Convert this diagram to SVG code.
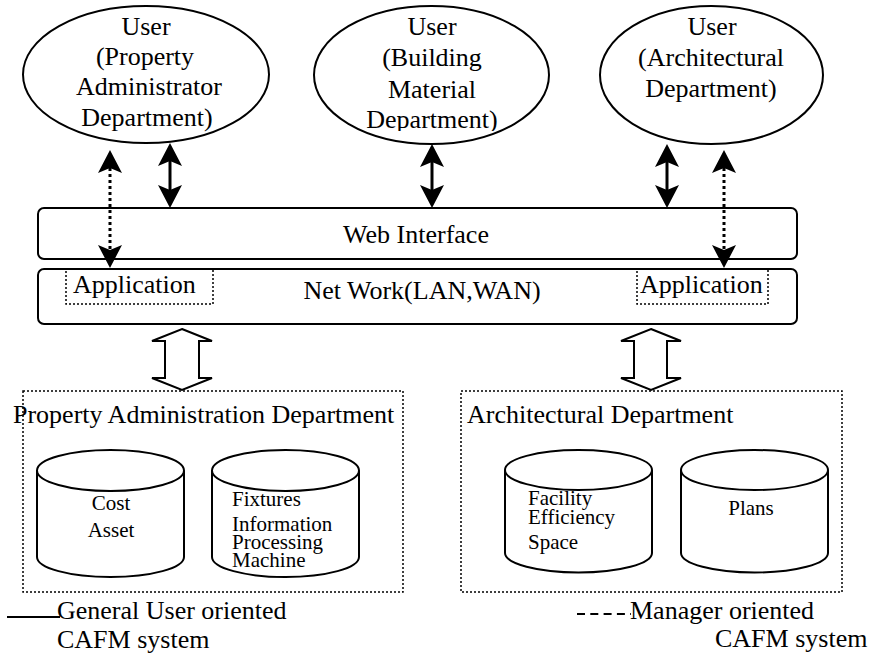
<svg xmlns="http://www.w3.org/2000/svg" width="875" height="658" viewBox="0 0 875 658">
<style>
text{font-family:"Liberation Serif","Times New Roman",serif;fill:#000}
.big{font-size:26px}
.sm{font-size:21px}
.mid{text-anchor:middle}
.shape{fill:#fff;stroke:#000;stroke-width:2}
.dot{fill:none;stroke:#000;stroke-width:1.5;stroke-dasharray:2 2}
.solid{stroke:#000;stroke-width:3;fill:none}
.dotted{stroke:#000;stroke-width:3;fill:none;stroke-dasharray:3 3}
.hollow{fill:#fff;stroke:#000;stroke-width:2;stroke-linejoin:miter}
</style>
<defs>
<marker id="head" viewBox="0 0 23 24" refX="5" refY="12" markerWidth="23" markerHeight="24" markerUnits="userSpaceOnUse" orient="auto-start-reverse">
<path d="M0 0 L23 12 L0 24 L5 12 Z" fill="#000"/>
</marker>
<clipPath id="clipB"><rect x="300" y="0" width="260" height="131"/></clipPath>
</defs>

<g id="user-property">
<ellipse class="shape" cx="146" cy="74.5" rx="123" ry="68.5"/>
<text class="big mid" x="146" y="35">User</text>
<text class="big mid" x="145" y="65">(Property</text>
<text class="big mid" x="149" y="95">Administrator</text>
<text class="big mid" x="147" y="126">Department)</text>
</g>

<g id="user-building">
<ellipse class="shape" cx="431.5" cy="75" rx="117.5" ry="69"/>
<g clip-path="url(#clipB)">
<text class="big mid" x="432" y="35">User</text>
<text class="big mid" x="432" y="66">(Building</text>
<text class="big mid" x="432" y="98">Material</text>
<text class="big mid" x="432" y="128">Department)</text>
</g>
</g>

<g id="user-architectural">
<ellipse class="shape" cx="711.5" cy="75" rx="111.5" ry="69"/>
<text class="big mid" x="712" y="35">User</text>
<text class="big mid" x="711" y="66">(Architectural</text>
<text class="big mid" x="711" y="97">Department)</text>
</g>

<g id="web-interface">
<rect class="shape" x="38" y="208" width="759" height="51" rx="6"/>
<text class="big mid" x="416" y="243">Web Interface</text>
</g>

<g id="network">
<rect class="shape" x="38" y="269" width="759" height="55" rx="6"/>
<text class="big mid" x="422" y="299">Net Work(LAN,WAN)</text>
</g>

<g id="application-left">
<rect class="dot" x="66" y="269" width="147" height="35"/>
<text class="big" x="73" y="293">Application</text>
</g>

<g id="application-right">
<rect class="dot" x="637" y="269" width="131" height="35"/>
<text class="big" x="640" y="293">Application</text>
</g>

<g id="property-admin-dept">
<rect class="dot" x="23" y="391" width="380" height="201"/>
<text class="big" x="13" y="423">Property Administration Department</text>
</g>

<g id="architectural-dept">
<rect class="dot" x="461" y="391" width="381" height="201"/>
<text class="big" x="467" y="423">Architectural Department</text>
</g>

<g id="db-cost-asset">
<path class="shape" d="M37 470.5 L37 557 A73.5 20 0 0 0 184 557 L184 470.5"/>
<ellipse class="shape" cx="110.5" cy="470.5" rx="73.5" ry="20.5"/>
<text class="sm mid" x="111" y="510">Cost</text>
<text class="sm mid" x="111" y="537">Asset</text>
</g>

<g id="db-fixtures">
<path class="shape" d="M212 470.5 L212 557 A73.5 20 0 0 0 359 557 L359 470.5"/>
<ellipse class="shape" cx="285.5" cy="470.5" rx="73.5" ry="20.5"/>
<text class="sm" x="232" y="506">Fixtures</text>
<text class="sm" x="232" y="531">Information</text>
<text class="sm" x="232" y="549">Processing</text>
<text class="sm" x="232" y="567">Machine</text>
</g>

<g id="db-facility">
<path class="shape" d="M505 470 L505 553 A73.5 19.5 0 0 0 652 553 L652 470"/>
<ellipse class="shape" cx="578.5" cy="470" rx="73.5" ry="20"/>
<text class="sm" x="528" y="505">Facility</text>
<text class="sm" x="528" y="524">Efficiency</text>
<text class="sm" x="528" y="549">Space</text>
</g>

<g id="db-plans">
<path class="shape" d="M681 470 L681 553 A73.5 19.5 0 0 0 828 553 L828 470"/>
<ellipse class="shape" cx="754.5" cy="470" rx="73.5" ry="20"/>
<text class="sm mid" x="751" y="515">Plans</text>
</g>

<g id="legend">
<line x1="7" y1="617" x2="60" y2="617" stroke="#000" stroke-width="2"/>
<text class="big" x="57" y="619">General User oriented</text>
<text class="big" x="57" y="648">CAFM system</text>
<line x1="577" y1="614" x2="631" y2="614" stroke="#000" stroke-width="2" stroke-dasharray="8 5.3"/>
<text class="big" x="630" y="619">Manager oriented</text>
<text class="big" x="715" y="647">CAFM system</text>
</g>

<g id="connectors">
<line class="solid" x1="170" y1="161" x2="170" y2="190" marker-start="url(#head)" marker-end="url(#head)"/>
<line class="solid" x1="432" y1="162" x2="432" y2="190" marker-start="url(#head)" marker-end="url(#head)"/>
<line class="solid" x1="667" y1="162" x2="667" y2="190" marker-start="url(#head)" marker-end="url(#head)"/>
<line class="dotted" x1="110" y1="168" x2="110" y2="250" marker-start="url(#head)" marker-end="url(#head)"/>
<line class="dotted" x1="724" y1="168" x2="724" y2="250" marker-start="url(#head)" marker-end="url(#head)"/>
<polygon class="hollow" points="182,329 212,341 199,341 199,378 212,378 182,390 152,378 165,378 165,341 152,341"/>
<polygon class="hollow" points="651,329 681,341 667,341 667,378 681,378 651,390 621,378 634,378 634,341 621,341"/>
</g>
</svg>
